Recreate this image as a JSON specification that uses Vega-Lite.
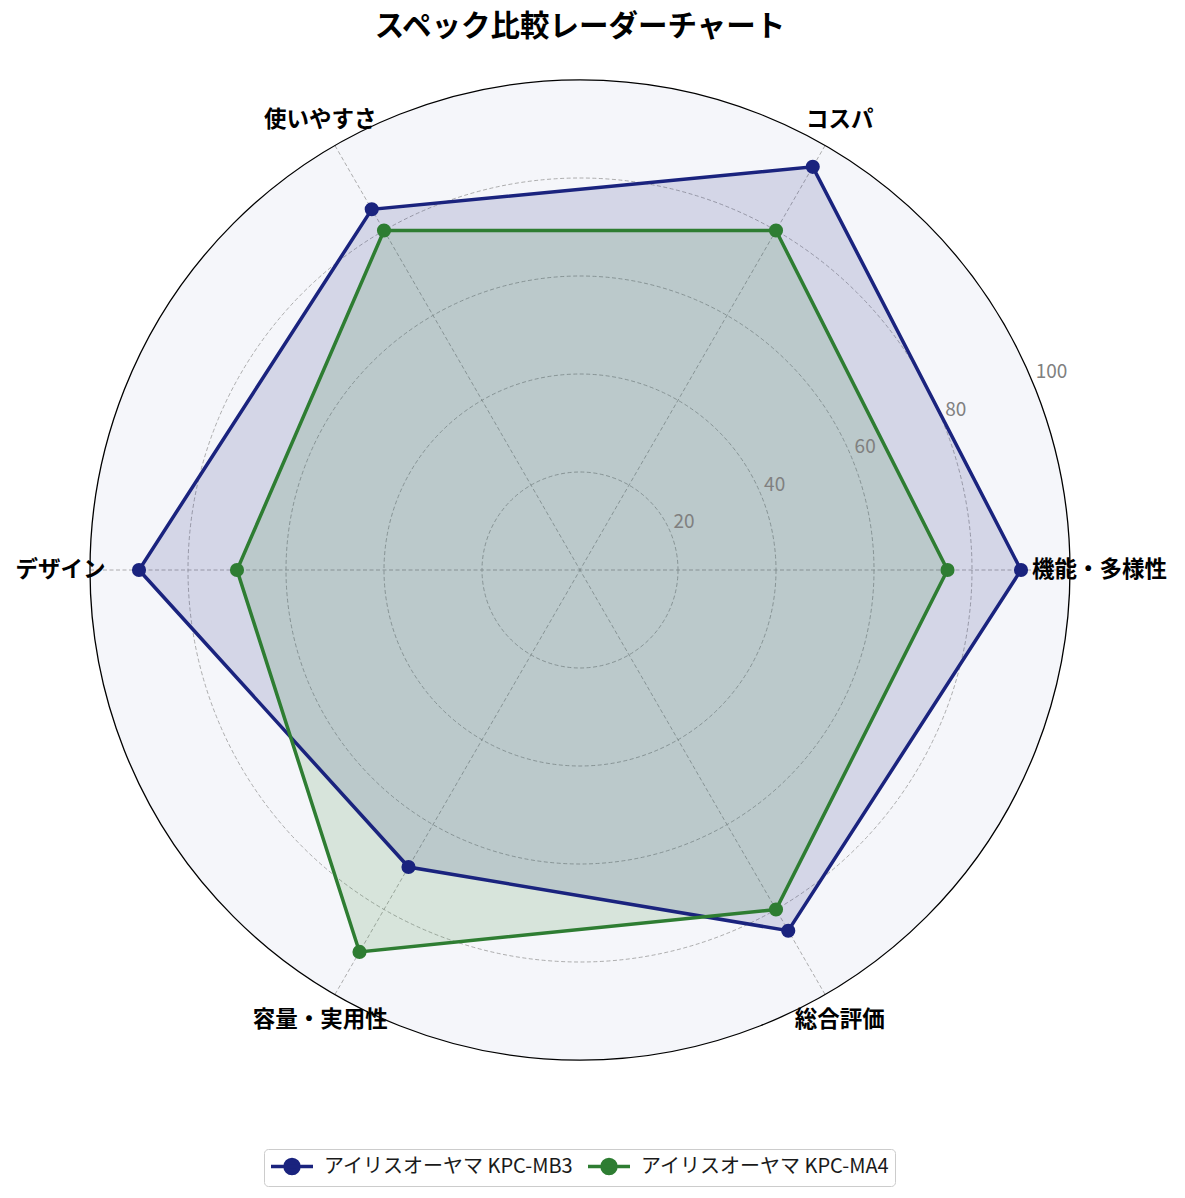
{
  "$schema": "https://vega.github.io/schema/vega-lite/v6.json",
  "width": 980,
  "height": 980,
  "autosize": {"type": "none"},
  "padding": {"left": 90, "top": 80, "right": 115, "bottom": 138},
  "background": "white",
  "config": {"view": {"stroke": null}, "font": "Noto Sans CJK JP"},
  "title": {
    "text": "スペック比較レーダーチャート",
    "font": "Noto Sans CJK JP",
    "fontSize": 29.5,
    "fontWeight": "bold",
    "color": "black",
    "anchor": "middle",
    "frame": "group",
    "baseline": "bottom",
    "offset": 6
  },
  "datasets": {
    "axes": [
      {"cat": "機能・多様性", "i": 0},
      {"cat": "コスパ", "i": 1},
      {"cat": "使いやすさ", "i": 2},
      {"cat": "デザイン", "i": 3},
      {"cat": "容量・実用性", "i": 4},
      {"cat": "総合評価", "i": 5}
    ],
    "scores": [
      {"product": "アイリスオーヤマ KPC-MB3", "cat": "機能・多様性", "i": 0, "value": 90},
      {"product": "アイリスオーヤマ KPC-MB3", "cat": "コスパ", "i": 1, "value": 95},
      {"product": "アイリスオーヤマ KPC-MB3", "cat": "使いやすさ", "i": 2, "value": 85},
      {"product": "アイリスオーヤマ KPC-MB3", "cat": "デザイン", "i": 3, "value": 90},
      {"product": "アイリスオーヤマ KPC-MB3", "cat": "容量・実用性", "i": 4, "value": 70},
      {"product": "アイリスオーヤマ KPC-MB3", "cat": "総合評価", "i": 5, "value": 85},
      {"product": "アイリスオーヤマ KPC-MA4", "cat": "機能・多様性", "i": 0, "value": 75},
      {"product": "アイリスオーヤマ KPC-MA4", "cat": "コスパ", "i": 1, "value": 80},
      {"product": "アイリスオーヤマ KPC-MA4", "cat": "使いやすさ", "i": 2, "value": 80},
      {"product": "アイリスオーヤマ KPC-MA4", "cat": "デザイン", "i": 3, "value": 70},
      {"product": "アイリスオーヤマ KPC-MA4", "cat": "容量・実用性", "i": 4, "value": 90},
      {"product": "アイリスオーヤマ KPC-MA4", "cat": "総合評価", "i": 5, "value": 80}
    ],
    "rings": [{"r": 20}, {"r": 40}, {"r": 60}, {"r": 80}],
    "outer": [{"r": 100}],
    "ticks": [{"t": 20}, {"t": 40}, {"t": 60}, {"t": 80}, {"t": 100}]
  },
  "layer": [
    {
      "data": {"name": "outer"},
      "mark": {"type": "point", "shape": "circle", "filled": true, "fill": "#f5f6fa", "opacity": 1},
      "encoding": {
        "x": {"datum": 0, "type": "quantitative", "scale": {"domain": [-100, 100]}, "axis": null},
        "y": {"datum": 0, "type": "quantitative", "scale": {"domain": [-100, 100]}, "axis": null},
        "size": {"field": "r", "type": "quantitative", "scale": {"type": "pow", "exponent": 2, "domain": [0, 100], "range": [0, 960400]}, "legend": null}
      }
    },
    {
      "data": {"name": "rings"},
      "mark": {"type": "point", "shape": "circle", "filled": false, "stroke": "#999999", "strokeWidth": 0.8, "strokeDash": [4, 2.5], "opacity": 1},
      "encoding": {
        "x": {"datum": 0, "type": "quantitative"},
        "y": {"datum": 0, "type": "quantitative"},
        "size": {"field": "r", "type": "quantitative", "legend": null}
      }
    },
    {
      "data": {"name": "axes"},
      "transform": [
        {"calculate": "100 * cos(datum.i * PI / 3)", "as": "ex"},
        {"calculate": "100 * sin(datum.i * PI / 3)", "as": "ey"}
      ],
      "mark": {"type": "rule", "stroke": "#999999", "strokeWidth": 0.8, "strokeDash": [4, 2.5]},
      "encoding": {
        "x": {"field": "ex", "type": "quantitative"},
        "y": {"field": "ey", "type": "quantitative"},
        "x2": {"datum": 0},
        "y2": {"datum": 0}
      }
    },
    {
      "data": {"name": "scores"},
      "transform": [
        {"filter": "datum.product === 'アイリスオーヤマ KPC-MB3'"},
        {"calculate": "datum.value * cos(datum.i * PI / 3)", "as": "px"},
        {"calculate": "datum.value * sin(datum.i * PI / 3)", "as": "py"}
      ],
      "mark": {"type": "line", "interpolate": "linear-closed", "fill": "#1a237e", "fillOpacity": 0.15, "strokeOpacity": 0},
      "encoding": {
        "x": {"field": "px", "type": "quantitative"},
        "y": {"field": "py", "type": "quantitative"},
        "order": {"field": "i", "type": "quantitative"}
      }
    },
    {
      "data": {"name": "scores"},
      "transform": [
        {"filter": "datum.product === 'アイリスオーヤマ KPC-MA4'"},
        {"calculate": "datum.value * cos(datum.i * PI / 3)", "as": "px"},
        {"calculate": "datum.value * sin(datum.i * PI / 3)", "as": "py"}
      ],
      "mark": {"type": "line", "interpolate": "linear-closed", "fill": "#2e7d32", "fillOpacity": 0.15, "strokeOpacity": 0},
      "encoding": {
        "x": {"field": "px", "type": "quantitative"},
        "y": {"field": "py", "type": "quantitative"},
        "order": {"field": "i", "type": "quantitative"}
      }
    },
    {
      "data": {"name": "scores"},
      "transform": [
        {"calculate": "datum.value * cos(datum.i * PI / 3)", "as": "px"},
        {"calculate": "datum.value * sin(datum.i * PI / 3)", "as": "py"}
      ],
      "mark": {"type": "line", "interpolate": "linear-closed", "strokeWidth": 3.5},
      "encoding": {
        "x": {"field": "px", "type": "quantitative"},
        "y": {"field": "py", "type": "quantitative"},
        "order": {"field": "i", "type": "quantitative"},
        "color": {
          "field": "product",
          "type": "nominal",
          "scale": {"domain": ["アイリスオーヤマ KPC-MB3", "アイリスオーヤマ KPC-MA4"], "range": ["#1a237e", "#2e7d32"]},
          "legend": {
            "title": null,
            "orient": "none",
            "legendX": 174,
            "legendY": 1069,
            "direction": "horizontal",
            "symbolType": "M-1,0H3.2M1.8,0A0.7,0.7 0 1,1 0.4,0A0.7,0.7 0 1,1 1.8,0Z",
            "symbolSize": 400,
            "symbolStrokeWidth": 3.5,
            "labelOffset": 31,
            "labelFont": "Noto Sans CJK JP",
            "labelFontSize": 20,
            "labelColor": "#1a1a1a",
            "labelLimit": 400,
            "columnPadding": 7,
            "padding": 5,
            "strokeColor": "#cccccc",
            "cornerRadius": 4,
            "fillColor": "white"
          }
        }
      }
    },
    {
      "data": {"name": "scores"},
      "transform": [
        {"calculate": "datum.value * cos(datum.i * PI / 3)", "as": "px"},
        {"calculate": "datum.value * sin(datum.i * PI / 3)", "as": "py"}
      ],
      "mark": {"type": "point", "shape": "circle", "filled": true, "size": 200, "opacity": 1},
      "encoding": {
        "x": {"field": "px", "type": "quantitative"},
        "y": {"field": "py", "type": "quantitative"},
        "color": {"field": "product", "type": "nominal"}
      }
    },
    {
      "data": {"name": "outer"},
      "mark": {"type": "point", "shape": "circle", "filled": false, "stroke": "black", "strokeWidth": 1.3, "opacity": 1},
      "encoding": {
        "x": {"datum": 0, "type": "quantitative"},
        "y": {"datum": 0, "type": "quantitative"},
        "size": {"field": "r", "type": "quantitative", "legend": null}
      }
    },
    {
      "data": {"name": "ticks"},
      "transform": [
        {"calculate": "datum.t * cos(PI / 8)", "as": "tx"},
        {"calculate": "datum.t * sin(PI / 8)", "as": "ty"}
      ],
      "mark": {"type": "text", "align": "left", "baseline": "bottom", "dx": 3, "fontSize": 19, "color": "#808080", "font": "Noto Sans CJK JP"},
      "encoding": {
        "x": {"field": "tx", "type": "quantitative"},
        "y": {"field": "ty", "type": "quantitative"},
        "text": {"field": "t", "type": "quantitative"}
      }
    },
    {
      "data": {"name": "axes"},
      "transform": [
        {"calculate": "106 * cos(datum.i * PI / 3)", "as": "lx"},
        {"calculate": "106 * sin(datum.i * PI / 3)", "as": "ly"}
      ],
      "mark": {"type": "text", "align": "center", "baseline": "middle", "fontSize": 22.5, "fontWeight": "bold", "color": "black", "font": "Noto Sans CJK JP"},
      "encoding": {
        "x": {"field": "lx", "type": "quantitative"},
        "y": {"field": "ly", "type": "quantitative"},
        "text": {"field": "cat", "type": "nominal"}
      }
    }
  ]
}
